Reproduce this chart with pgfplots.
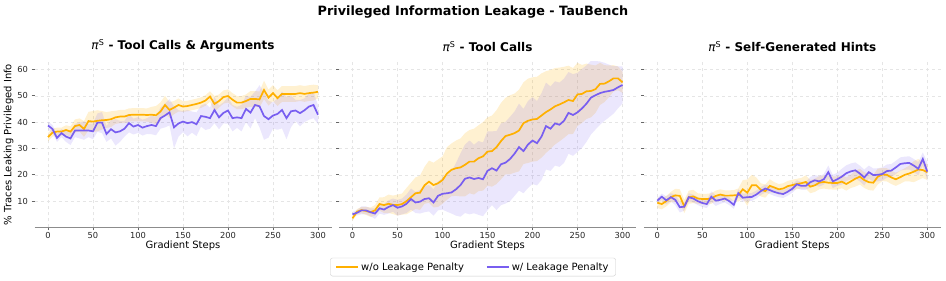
\documentclass[border=0pt]{standalone}
\usepackage{pgfplots}
\pgfplotsset{compat=1.18}
\usepackage{pgfplotstable}
\usepgfplotslibrary{fillbetween}
\usepackage{fontspec}
\setmainfont{DejaVu Sans}
\definecolor{cOr}{HTML}{FFB000}
\definecolor{cPu}{HTML}{785EF0}

\pgfplotstableread{
s a ae b be
0 34.3 1.5 38.7 1.5
5 36.0 1.5 37.4 1.5
10 36.4 1.5 34.0 1.5
15 36.4 1.5 35.8 1.5
20 37.0 1.8 34.5 2.0
25 36.4 2.0 33.8 2.5
30 38.5 2.5 36.8 2.5
35 38.9 2.5 36.8 3.0
40 37.4 3.0 36.8 3.5
45 40.4 3.5 36.8 2.5
50 40.2 4.0 36.5 3.0
55 40.5 4.0 39.8 3.5
60 40.7 3.5 39.8 4.0
65 40.8 3.0 35.5 3.0
70 41.1 3.0 37.3 3.5
75 41.8 2.5 36.1 5.0
80 42.1 2.5 36.5 4.0
85 42.1 2.5 37.5 3.0
90 42.7 2.5 39.6 3.5
95 42.8 2.5 38.3 3.0
100 42.8 2.5 38.9 3.0
105 42.8 2.5 37.9 3.0
110 42.7 2.5 38.5 3.0
115 42.8 3.0 38.9 3.5
120 42.6 3.5 38.5 3.5
125 44.0 3.5 41.5 4.0
130 46.5 3.5 42.5 4.5
135 44.6 3.0 43.7 5.0
140 45.5 2.5 38.0 8.0
145 46.5 2.5 39.5 5.0
150 45.9 2.0 40.2 4.0
155 46.1 2.0 39.6 5.0
160 46.5 2.0 40.0 4.0
165 46.9 2.0 39.2 4.5
170 47.4 2.0 42.3 4.0
175 48.2 2.0 42.0 5.0
180 49.7 2.0 41.5 4.0
185 46.9 3.0 44.6 5.0
190 48.0 2.5 41.8 4.5
195 49.5 2.5 43.5 4.0
200 49.9 2.5 44.4 5.0
205 48.5 2.5 41.5 5.0
210 47.4 2.5 41.8 4.0
215 47.4 2.5 41.5 5.0
220 48.0 2.5 45.0 5.0
225 48.8 3.0 43.6 6.0
230 48.8 3.0 46.5 5.0
235 48.6 3.0 46.0 8.0
240 52.2 3.5 42.3 9.0
245 49.3 3.0 41.1 7.0
250 51.0 3.0 42.5 5.0
255 49.1 3.0 43.1 6.0
260 50.7 3.0 44.6 7.0
265 50.7 3.0 41.5 8.0
270 50.7 3.0 44.1 6.0
275 50.7 3.0 44.4 4.0
280 51.0 3.0 43.4 5.0
285 50.7 3.0 44.5 4.5
290 51.0 3.0 45.9 5.0
295 51.2 3.0 46.5 5.0
300 51.5 2.5 42.8 3.5
}\tA

\pgfplotstableread{
s a ae b be
0 3.5 1.0 5.0 1.0
5 6.0 1.0 5.6 1.0
10 6.6 1.2 6.5 1.5
15 6.3 1.5 6.5 1.5
20 5.8 1.8 5.8 1.5
25 6.5 2.0 5.3 2.0
30 8.9 2.5 7.3 2.0
35 8.5 3.0 6.8 2.0
40 9.0 3.5 7.8 2.5
45 8.6 3.5 8.5 2.5
50 8.5 4.0 7.5 3.0
55 8.9 4.0 8.0 3.0
60 10.0 5.0 9.0 3.5
65 11.5 5.5 10.8 4.0
70 13.0 6.0 9.5 4.0
75 13.2 6.5 9.8 4.5
80 16.0 7.0 10.8 5.0
85 17.4 8.0 11.1 5.0
90 16.1 8.5 9.5 5.0
95 16.8 9.0 12.0 5.5
100 18.0 9.0 12.8 6.0
105 20.5 10.0 13.0 7.0
110 21.9 10.0 13.3 8.0
115 22.5 10.5 14.5 10.0
120 22.8 11.0 16.1 12.0
125 23.8 12.0 18.5 13.0
130 25.0 12.0 19.0 14.0
135 25.0 12.5 18.4 13.0
140 26.3 12.5 18.8 14.0
145 27.0 13.0 18.3 14.0
150 28.8 13.0 21.5 15.0
155 29.0 13.5 22.5 14.0
160 30.5 14.0 21.6 15.0
165 32.8 14.5 24.0 15.5
170 34.7 14.5 24.6 15.5
175 35.2 15.0 26.0 16.0
180 35.8 15.0 28.0 16.0
185 36.8 15.5 30.5 16.5
190 39.6 15.5 29.0 16.0
195 40.5 16.0 31.5 16.5
200 41.0 16.0 33.0 16.5
205 41.2 16.0 32.0 16.0
210 42.5 16.0 34.5 16.5
215 43.8 15.5 38.5 16.5
220 44.8 15.0 37.5 16.0
225 46.0 14.5 39.5 16.0
230 46.7 14.0 39.0 16.0
235 47.5 13.5 40.5 16.0
240 48.4 13.0 43.5 15.5
245 48.0 12.5 42.7 15.5
250 50.5 12.0 43.7 15.0
255 50.7 11.0 45.2 15.0
260 51.7 10.5 47.0 14.5
265 51.8 10.0 49.3 14.0
270 52.5 9.0 50.2 13.0
275 54.5 8.0 51.0 12.0
280 54.6 7.0 51.5 11.0
285 55.5 6.0 51.8 10.0
290 56.6 5.0 52.2 9.0
295 56.6 4.5 53.2 8.0
300 55.1 4.0 54.1 7.0
}\tB

\pgfplotstableread{
s a ae b be
0 9.4 2.0 10.2 1.0
5 8.9 2.0 11.7 1.2
10 10.0 2.0 10.3 1.5
15 11.5 2.0 11.5 1.5
20 12.2 2.5 10.5 2.0
25 12.0 2.5 7.7 2.0
30 8.0 2.5 7.9 1.5
35 11.5 2.5 11.5 1.5
40 11.8 2.5 11.0 1.5
45 11.0 2.0 10.0 1.5
50 10.8 2.0 9.3 1.5
55 10.8 2.0 8.9 1.5
60 11.0 2.0 11.7 2.0
65 12.0 2.0 10.2 2.0
70 12.5 2.0 10.5 1.5
75 12.1 2.0 11.0 1.5
80 12.1 2.0 10.0 1.5
85 12.2 2.0 8.6 1.5
90 12.3 2.5 13.0 1.5
95 14.5 3.5 11.3 1.5
100 13.2 5.0 11.5 1.5
105 16.0 4.0 11.6 1.5
110 16.0 3.0 12.5 1.5
115 14.3 2.5 13.8 1.5
120 13.8 2.5 14.8 1.5
125 15.8 2.5 14.2 1.5
130 15.2 2.0 13.5 1.5
135 14.5 2.0 13.0 1.5
140 14.8 2.0 12.7 1.5
145 15.7 2.0 13.6 1.5
150 16.1 2.0 14.7 1.5
155 16.5 2.0 16.4 1.5
160 16.8 2.0 15.8 1.5
165 17.3 2.5 15.8 1.5
170 15.5 2.5 17.2 2.0
175 16.0 2.5 17.9 2.0
180 17.0 2.5 17.5 2.0
185 17.3 2.5 18.3 2.0
190 17.0 2.5 21.0 2.5
195 16.9 2.5 17.5 2.5
200 16.9 2.5 18.3 2.5
205 17.4 2.5 19.3 3.0
210 16.5 2.5 20.6 3.0
215 17.5 2.5 21.3 3.0
220 18.5 3.0 21.7 3.0
225 19.3 3.0 20.5 3.0
230 18.0 3.0 19.0 3.0
235 17.2 3.0 21.0 2.5
240 17.0 3.0 19.9 2.5
245 19.3 3.0 20.0 2.5
250 20.1 2.5 20.3 2.5
255 20.0 2.5 21.4 2.5
260 19.0 2.5 21.6 2.5
265 18.3 2.5 22.8 2.5
270 19.1 2.5 24.1 2.5
275 20.0 2.5 24.4 2.5
280 20.5 3.0 24.5 2.5
285 21.2 4.0 23.5 2.5
290 22.0 4.0 22.3 2.5
295 21.8 3.0 26.0 2.5
300 21.0 3.0 21.2 3.5
}\tC

\pgfplotsset{
  panel/.style={
    width=297pt, height=166pt, scale only axis,
    xmin=-15, xmax=315, ymin=0, ymax=63,
    xtick={0,50,...,300}, ytick={10,20,...,60},
    axis x line=bottom, axis y line=left,
    x axis line style={-, draw=black!45, line width=1.1pt},
    y axis line style={draw=none},
    tick align=outside, major tick length=3pt,
    every tick/.style={black!60, line width=0.8pt},
    grid=major, grid style={dashed, black!10, line width=0.5pt},
    ticklabel style={font=\fontsize{8.3}{10}\selectfont, text=black!85},
    xticklabel style={yshift=1.5pt},
    /pgf/number format/assume math mode=true,
    xlabel={Gradient Steps},
    xlabel style={font=\fontsize{10}{12}\selectfont, yshift=5pt},
    ylabel style={font=\fontsize{10}{12}\selectfont},
    title style={font=\fontsize{12}{14}\selectfont\bfseries, at={(0.5,1)}, anchor=south, yshift=0pt},
    legend image code/.code={\draw[##1, line width=1.7pt] (0pt,0pt) -- (22pt,0pt);},
  },
  bandsrc/.style={draw=none, forget plot},
}
\newcommand{\piS}{{\mdseries\textit{π}\textsuperscript{S}}}

\newcommand{\drawpanel}[2]{%
  \addplot[bandsrc, name path=#2au] table[x=s, y expr=\thisrow{a}+\thisrow{ae}] {#1};
  \addplot[bandsrc, name path=#2al] table[x=s, y expr=\thisrow{a}-\thisrow{ae}] {#1};
  \addplot[fill=cOr, fill opacity=0.18, draw=none, forget plot] fill between[of=#2au and #2al];
  \addplot[bandsrc, name path=#2bu] table[x=s, y expr=\thisrow{b}+\thisrow{be}] {#1};
  \addplot[bandsrc, name path=#2bl] table[x=s, y expr=\thisrow{b}-\thisrow{be}] {#1};
  \addplot[fill=cPu, fill opacity=0.15, draw=none, forget plot] fill between[of=#2bu and #2bl];
  \addplot[cOr, line width=1.7pt] table[x=s, y=a] {#1};
  \addplot[cPu, line width=1.7pt] table[x=s, y=b] {#1};
}

\begin{document}
\begin{tikzpicture}
\node[font=\fontsize{12.8}{15}\selectfont\bfseries] at (473pt,268.5pt) {Privileged Information Leakage - TauBench};

\begin{axis}[panel, at={(34.5pt,53.5pt)}, anchor=south west,
  title={\piS{} - Tool Calls \& Arguments},
  ylabel={\% Traces Leaking Privileged Info}, ylabel style={yshift=-3pt}]
\drawpanel{\tA}{p1}
\end{axis}

\begin{axis}[panel, at={(339pt,53.5pt)}, anchor=south west,
  title={\piS{} - Tool Calls}, yticklabels={},
  legend columns=2,
  legend style={at={(0.4512,-0.238)}, anchor=center, draw=black!20, rounded corners=2pt,
    font=\fontsize{10}{12}\selectfont, inner xsep=5pt, inner ysep=2.5pt,
    /tikz/every even column/.append style={column sep=20pt}}]
\drawpanel{\tB}{p2}
\addlegendentry{w/o Leakage Penalty}
\addlegendentry{w/ Leakage Penalty}
\end{axis}

\begin{axis}[panel, at={(643.8pt,53.5pt)}, anchor=south west,
  title={\piS{} - Self-Generated Hints}, yticklabels={}]
\drawpanel{\tC}{p3}
\end{axis}
\pgfresetboundingbox
\path[use as bounding box] (0pt,0pt) rectangle (946pt,281pt);
\end{tikzpicture}
\end{document}
